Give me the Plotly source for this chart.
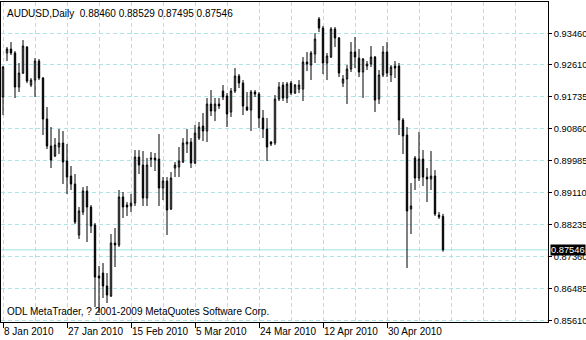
import plotly.graph_objects as go

SYMBOL = "AUDUSD,Daily"
COPYRIGHT = "ODL MetaTrader, ? 2001-2009 MetaQuotes Software Corp."

OPEN = [0.91719, 0.92921, 0.93030, 0.92921, 0.91992, 0.92374, 0.93084, 0.92047, 0.92183, 0.92702,
        0.92238, 0.91118, 0.90381, 0.90108, 0.90353, 0.90463, 0.89971, 0.89561, 0.89343, 0.87950,
        0.88578, 0.89152, 0.88715, 0.88223, 0.86830, 0.86912, 0.86557, 0.86284, 0.87732, 0.87677,
        0.88988, 0.88769, 0.88742, 0.88824, 0.90080, 0.89862, 0.88961, 0.90053, 0.90053, 0.90026,
        0.89234, 0.89425, 0.88660, 0.89780, 0.89807, 0.89944, 0.90435, 0.90490, 0.89917, 0.90599,
        0.90927, 0.90790, 0.91528, 0.91337, 0.91528, 0.91883, 0.91746, 0.91309, 0.91883, 0.92292,
        0.92101, 0.91446, 0.91364, 0.91856, 0.91801, 0.91145, 0.90845, 0.90490, 0.90463, 0.91664,
        0.92047, 0.91692, 0.92101, 0.91828, 0.91937, 0.91937, 0.92675, 0.92593, 0.92893, 0.93849,
        0.93603, 0.92648, 0.92811, 0.93576, 0.93330, 0.92101, 0.92211, 0.92484, 0.92948, 0.92784,
        0.92402, 0.92566, 0.92620, 0.92811, 0.91664, 0.92320, 0.92948, 0.92320, 0.92566, 0.92566,
        0.91091, 0.90681, 0.88660, 0.90053, 0.89507, 0.90026, 0.89534, 0.89480, 0.89561, 0.88496,
        0.88460]
HIGH = [0.92566, 0.93084, 0.93221, 0.92975, 0.92648, 0.93276, 0.93112, 0.92238, 0.92784, 0.92757,
        0.92265, 0.91446, 0.90900, 0.90599, 0.90845, 0.90790, 0.90435, 0.89835, 0.89616, 0.88715,
        0.89261, 0.89288, 0.88769, 0.88278, 0.87104, 0.87185, 0.86912, 0.87978, 0.88141, 0.89179,
        0.89125, 0.88851, 0.89070, 0.90271, 0.90271, 0.90244, 0.90053, 0.90217, 0.90190, 0.90708,
        0.89534, 0.89534, 0.89671, 0.89944, 0.90353, 0.90599, 0.90845, 0.90599, 0.90954, 0.91036,
        0.91282, 0.91692, 0.91910, 0.91692, 0.91692, 0.92047, 0.91828, 0.91965, 0.92511, 0.92347,
        0.92183, 0.91856, 0.91910, 0.91910, 0.91856, 0.91364, 0.91145, 0.90517, 0.91774, 0.92129,
        0.92129, 0.92129, 0.92156, 0.92074, 0.92183, 0.92811, 0.92948, 0.92975, 0.93467, 0.93904,
        0.93658, 0.92921, 0.93631, 0.93631, 0.93358, 0.92320, 0.92593, 0.93221, 0.93358, 0.93030,
        0.92784, 0.92702, 0.93112, 0.92839, 0.92456, 0.93112, 0.93221, 0.92593, 0.92702, 0.92648,
        0.91145, 0.90900, 0.89370, 0.90108, 0.90763, 0.90271, 0.89780, 0.90244, 0.89725, 0.88578,
        0.88529]
LOW = [0.91227, 0.92702, 0.92866, 0.91692, 0.91856, 0.92347, 0.92101, 0.91992, 0.91719, 0.92183,
       0.90681, 0.90299, 0.89780, 0.90080, 0.90162, 0.89343, 0.89070, 0.89179, 0.88251, 0.87841,
       0.88496, 0.87759, 0.88005, 0.85984, 0.85820, 0.86230, 0.86093, 0.86257, 0.87076, 0.87623,
       0.88414, 0.88469, 0.88578, 0.88742, 0.89616, 0.88742, 0.88742, 0.89807, 0.89698, 0.88742,
       0.88906, 0.87950, 0.88633, 0.89534, 0.89534, 0.89917, 0.90190, 0.89780, 0.89889, 0.90545,
       0.90517, 0.90490, 0.91200, 0.91063, 0.91391, 0.91637, 0.90900, 0.91173, 0.91828, 0.91965,
       0.91227, 0.91337, 0.90790, 0.91719, 0.90872, 0.90599, 0.89971, 0.90381, 0.90408, 0.91610,
       0.91610, 0.91555, 0.91774, 0.91801, 0.91828, 0.91610, 0.92429, 0.92183, 0.92648, 0.93494,
       0.92347, 0.92183, 0.92784, 0.93084, 0.92265, 0.91992, 0.91528, 0.92402, 0.92511, 0.92265,
       0.91692, 0.92456, 0.92538, 0.91309, 0.91528, 0.92265, 0.92265, 0.92129, 0.92238, 0.90681,
       0.90162, 0.87049, 0.87978, 0.89179, 0.89425, 0.89288, 0.88851, 0.89179, 0.88469, 0.88387,
       0.87495]
CLOSE = [0.92538, 0.93030, 0.92921, 0.91992, 0.92374, 0.93112, 0.92156, 0.92183, 0.92702, 0.92238,
         0.91118, 0.90381, 0.89998, 0.90408, 0.90463, 0.89944, 0.89534, 0.89343, 0.88305, 0.88606,
         0.89152, 0.88715, 0.88196, 0.86803, 0.86776, 0.86557, 0.86311, 0.87732, 0.87677, 0.88988,
         0.88715, 0.88715, 0.88824, 0.90080, 0.89862, 0.88961, 0.89862, 0.90026, 0.89998, 0.89234,
         0.89425, 0.88633, 0.89507, 0.89862, 0.89971, 0.90463, 0.90490, 0.89917, 0.90736, 0.90900,
         0.90790, 0.91528, 0.91337, 0.91528, 0.91473, 0.91719, 0.91255, 0.91883, 0.92292, 0.92101,
         0.91473, 0.91364, 0.91856, 0.91801, 0.91145, 0.90845, 0.90353, 0.90435, 0.91664, 0.91992,
         0.91692, 0.92074, 0.91828, 0.92047, 0.92047, 0.92675, 0.92620, 0.92921, 0.93303, 0.93603,
         0.92648, 0.92839, 0.93576, 0.93330, 0.92374, 0.92211, 0.92484, 0.92948, 0.92811, 0.92402,
         0.92757, 0.92620, 0.92811, 0.91637, 0.92320, 0.92948, 0.92374, 0.92538, 0.92511, 0.91091,
         0.90654, 0.88606, 0.88742, 0.89507, 0.90026, 0.89534, 0.89480, 0.89561, 0.88524, 0.88442,
         0.87546]

X_TICK_BARS = [0, 16, 32, 48, 64, 80, 96]
X_TICK_LABELS = ["8 Jan 2010", "27 Jan 2010", "15 Feb 2010", "5 Mar 2010",
                 "24 Mar 2010", "12 Apr 2010", "30 Apr 2010"]
Y_TICK_LABELS = ["0.93460", "0.92610", "0.91735", "0.90860", "0.89985",
                 "0.89110", "0.88235", "0.87360", "0.86485", "0.85610"]

FONT = "Liberation Sans, Arial, sans-serif"
GRID = "#b0e4e4"
PRICE_LINE = "#9fe3e3"

bars = list(range(len(OPEN)))

fig = go.Figure(go.Candlestick(
    x=bars, open=OPEN, high=HIGH, low=LOW, close=CLOSE,
    increasing=dict(line=dict(color="black", width=1), fillcolor="white"),
    decreasing=dict(line=dict(color="black", width=1), fillcolor="black"),
    whiskerwidth=0, showlegend=False, hoverinfo="skip",
))

fig.add_hline(y=CLOSE[-1], line=dict(color=PRICE_LINE, width=1), layer="below")

header = SYMBOL + "\u00a0\u00a0" + " ".join(
    f"{v:.5f}" for v in (OPEN[-1], HIGH[-1], LOW[-1], CLOSE[-1]))
fig.add_annotation(text=header, xref="paper", yref="paper", x=0, y=1,
                   xanchor="left", yanchor="top", xshift=4, yshift=-4,
                   showarrow=False, font=dict(family=FONT, size=10, color="black"))
fig.add_annotation(text=COPYRIGHT, xref="paper", yref="paper", x=0, y=0,
                   xanchor="left", yanchor="bottom", xshift=4, yshift=3,
                   showarrow=False, font=dict(family=FONT, size=10, color="black"))
fig.add_annotation(text=f"{CLOSE[-1]:.5f}", xref="paper", yref="y", x=1, y=CLOSE[-1],
                   xanchor="left", yanchor="middle", xshift=2,
                   showarrow=False, bgcolor="black", borderpad=0,
                   font=dict(family=FONT, size=9.3, color="white"))

fig.update_layout(
    width=586, height=340,
    margin=dict(l=1, r=38, t=2, b=18),
    paper_bgcolor="white", plot_bgcolor="white",
    boxgap=0.5,
    font=dict(family=FONT, size=10, color="black"),
    xaxis=dict(
        range=[-0.5, 136.25], rangeslider=dict(visible=False),
        tickmode="array", tickvals=X_TICK_BARS, ticktext=X_TICK_LABELS,
        ticks="outside", ticklen=5, tickcolor="black", tickwidth=1,
        ticklabelposition="outside right", tickangle=0, automargin=False,
        showgrid=True, gridcolor=GRID, griddash="4px,3px", gridwidth=1,
        minor=dict(dtick=8, tick0=0, showgrid=True, gridcolor=GRID,
                   griddash="4px,3px", gridwidth=1, ticks=""),
        showline=True, linecolor="black", linewidth=1, mirror=True,
        zeroline=False, fixedrange=True,
    ),
    yaxis=dict(
        side="right", range=[0.855745, 0.943149], automargin=False,
        tickmode="array", tickvals=[float(s) for s in Y_TICK_LABELS], ticktext=Y_TICK_LABELS,
        tickfont=dict(family=FONT, size=9.3, color="black"),
        ticks="outside", ticklen=3, tickcolor="black", tickwidth=1,
        showgrid=True, gridcolor=GRID, griddash="4px,3px", gridwidth=1,
        showline=True, linecolor="black", linewidth=1, mirror=True,
        zeroline=False, fixedrange=True,
    ),
)

fig.write_html("out.html")
